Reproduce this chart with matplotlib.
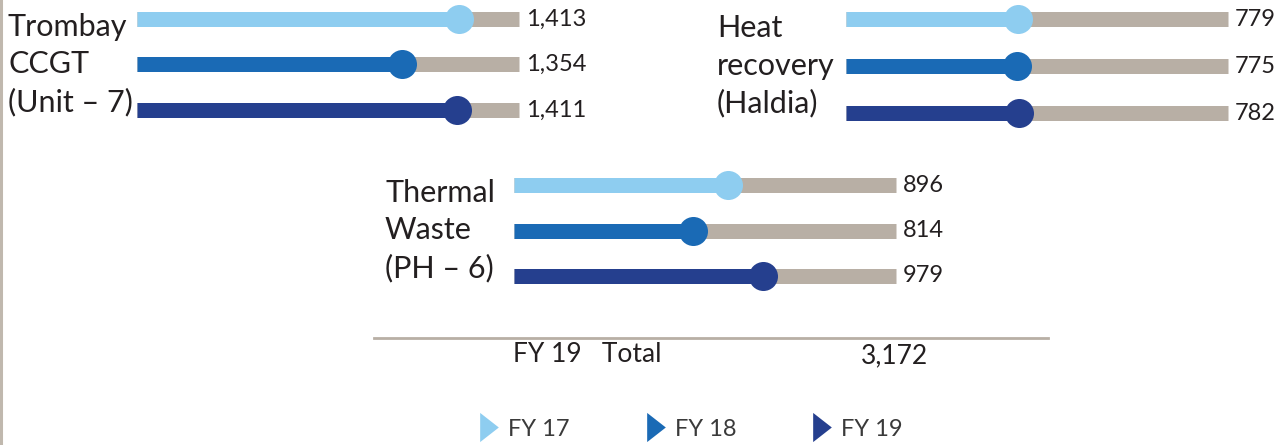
import matplotlib
matplotlib.use('Agg')
import matplotlib.pyplot as plt
from matplotlib.lines import Line2D

plt.rcParams['font.family'] = ['Lato', 'DejaVu Sans']

# data
plants = ['Trombay\nCCGT\n(Unit – 7)', 'Heat\nrecovery\n(Haldia)', 'Thermal\nWaste\n(PH – 6)']
years = ['FY 17', 'FY 18', 'FY 19']
fy17 = [1413, 779, 896]
fy18 = [1354, 775, 814]
fy19 = [1411, 782, 979]
# value range each slider track stands for
scale_lo = [1083, 0, 392]
scale_hi = [1474, 1730, 1293]

colors = ['#8ECDF0', '#1A6AB5', '#253F8E']
track = '#B8AFA5'
txt = '#231F20'

W, H = 1283, 445
fig = plt.figure(figsize=(W / 100, H / 100), dpi=100)

# track left px, track right px, first row y px, row gap px
layout = [(137, 519, 19, 45.5), (846, 1228, 19, 47), (514, 896, 185, 45.5)]

for g, (x0, x1, y0, sp) in enumerate(layout):
    top = y0 - sp / 2
    ax = fig.add_axes([x0 / W, 1 - (top + 3 * sp) / H, (x1 - x0) / W, 3 * sp / H])
    ax.set_xlim(scale_lo[g], scale_hi[g])
    ax.set_ylim(2.5, -0.5)
    ax.axis('off')
    vals = [fy17[g], fy18[g], fy19[g]]
    for i, v in enumerate(vals):
        ax.hlines(i, scale_lo[g], scale_hi[g], color=track, lw=10.8, clip_on=False)
        ax.hlines(i, scale_lo[g], v, color=colors[i], lw=10.8, clip_on=False)
        ax.plot(v, i, 'o', color=colors[i], ms=20.9, mew=0, clip_on=False)
        ax.annotate(f'{v:,}', xy=(scale_hi[g], i), xytext=(7, 0), textcoords='offset pixels',
                    ha='left', va='center', fontsize=17, color=txt)
    ax.annotate(plants[g], xy=(scale_lo[g], 1), xytext=(-129, 0), textcoords='offset pixels',
                ha='left', va='center', fontsize=22, color=txt, linespacing=1.4)

# left border and divider
fig.add_artist(Line2D([1 / W, 1 / W], [0, 1], color='#C0B8AE', lw=2.2))
fig.add_artist(Line2D([374 / W, 1048 / W], [1 - 338 / H, 1 - 338 / H], color='#B8AFA5', lw=2))

total = sum(fy19)
fig.text(513 / W, 1 - 355 / H, 'FY 19   Total', ha='left', va='center', fontsize=19, color=txt)
fig.text(894 / W, 1 - 356 / H, f'{total:,}', ha='center', va='center', fontsize=19, color=txt)

tri = [(-0.64, -1), (0.64, 0), (-0.64, 1), (-0.64, -1)]
handles = [Line2D([], [], ls='none', marker=tri, ms=21, mew=0, color=c) for c in colors]
fig.legend(handles, years, loc='center', bbox_to_anchor=(690 / W, 1 - 429 / H), ncol=3,
           frameon=False, fontsize=17, handletextpad=0.3, columnspacing=3.15, handlelength=1,
           labelcolor='#3a3a3a')

fig.savefig('out.png', dpi=100)
